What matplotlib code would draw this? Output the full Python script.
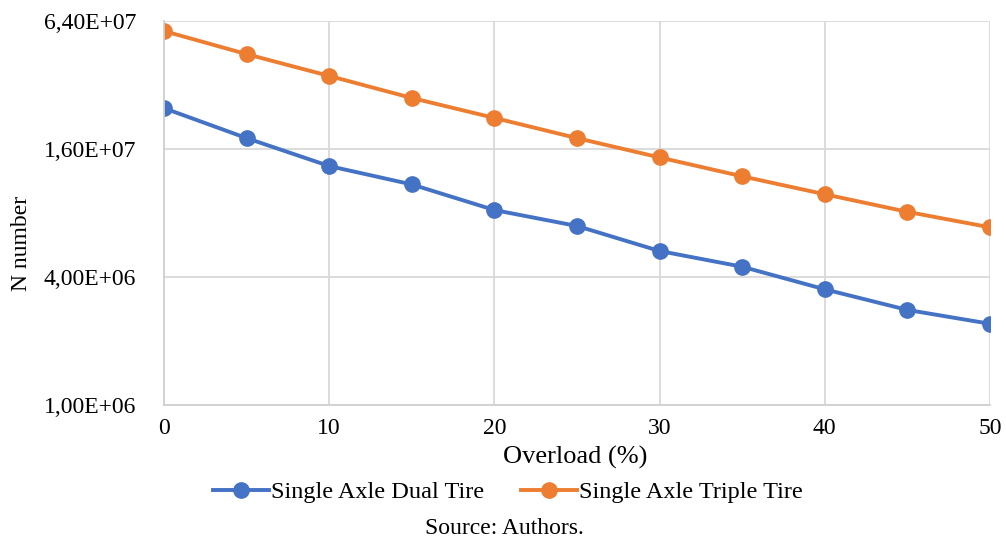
import matplotlib.pyplot as plt
from matplotlib.ticker import FixedLocator, NullLocator

plt.rcParams["font.family"] = ["Liberation Serif", "DejaVu Serif"]

# overload (%) and N number
overload = [0, 5, 10, 15, 20, 25, 30, 35, 40, 45, 50]
dual_tire = [2.49e7, 1.80e7, 1.33e7, 1.09e7, 8.26e6, 6.95e6, 5.30e6, 4.47e6, 3.50e6, 2.80e6, 2.41e6]
triple_tire = [5.74e7, 4.47e7, 3.53e7, 2.78e7, 2.24e7, 1.80e7, 1.46e7, 1.19e7, 9.8e6, 8.1e6, 6.85e6]
y_ticks = [1e6, 4e6, 1.6e7, 6.4e7]
y_labels = ["1,00E+06", "4,00E+06", "1,60E+07", "6,40E+07"]

fig = plt.figure(figsize=(10.06, 5.41), dpi=100)
ax = fig.add_axes([164 / 1006, 1 - 405 / 541, 826 / 1006, 384 / 541])

ax.plot(overload, dual_tire, color="#4472C4", lw=2.8, marker="o", ms=11,
        label="Single Axle Dual Tire")
ax.plot(overload, triple_tire, color="#ED7D31", lw=2.8, marker="o", ms=11,
        label="Single Axle Triple Tire")

ax.set_yscale("log")
ax.set_ylim(1e6, 6.4e7)
ax.set_xlim(0, 50)
ax.yaxis.set_major_locator(FixedLocator(y_ticks))
ax.yaxis.set_minor_locator(NullLocator())
ax.set_yticklabels(y_labels)
ax.set_xticks(range(0, 51, 10))

ax.grid(True, color="#D9D9D9", lw=1.3)
ax.set_axisbelow(True)
for side in ["top", "right"]:
    ax.spines[side].set_visible(False)
for side in ["left", "bottom"]:
    ax.spines[side].set_color("#D0D0D0")
    ax.spines[side].set_linewidth(1.3)
ax.tick_params(axis="both", length=0, labelsize=17)
ax.tick_params(axis="y", pad=20)
ax.tick_params(axis="x", pad=9)

fig.text(575 / 1006, 1 - 457 / 541, "Overload (%)", ha="center", va="center", fontsize=19)
fig.text(22 / 1006, 1 - 243 / 541, "N number", ha="center", va="center",
         rotation=90, fontsize=17)

fig.legend(loc="center", bbox_to_anchor=(508 / 1006, 1 - 492 / 541), ncol=2,
           frameon=False, fontsize=17.5, handlelength=2.3, handletextpad=0.1,
           columnspacing=1.5)
fig.text(504 / 1006, 1 - 528 / 541, "Source: Authors.", ha="center", va="center",
         fontsize=17)

fig.savefig("out.png", dpi=100)
